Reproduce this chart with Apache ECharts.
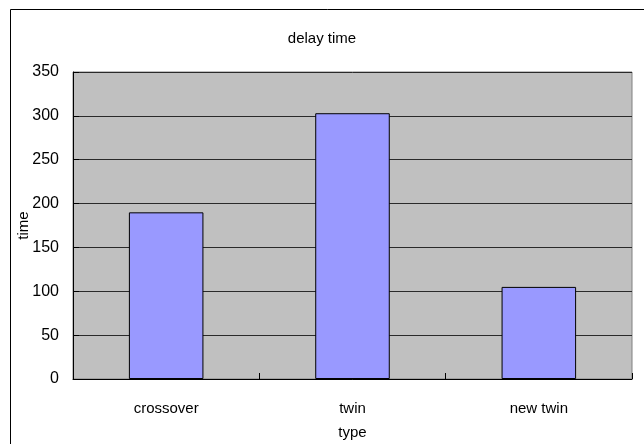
<!DOCTYPE html>
<html>
<head>
<meta charset="utf-8">
<script src="https://cdn.jsdelivr.net/npm/echarts@6/dist/echarts.min.js"></script>
<style>
  html, body { margin: 0; padding: 0; background: #fff; }
  #chart { width: 644px; height: 444px; }
</style>
</head>
<body>
<div id="chart"></div>
<script>
// Delay time per crossover type
const categories = ['crossover', 'twin', 'new twin'];
const delayValues = [190, 303, 105];
const yTicks = { min: 0, max: 350, interval: 50 };

const FONT = '"Liberation Sans", Arial, sans-serif';

const chart = echarts.init(document.getElementById('chart'), null, { renderer: 'canvas' });

chart.setOption({
  animation: false,
  backgroundColor: '#ffffff',
  title: {
    text: 'delay time',
    left: 'center',
    top: 26,
    textStyle: { fontFamily: FONT, fontSize: 15, fontWeight: 'normal', color: '#000' }
  },
  graphic: [
    {
      // outer chart frame
      type: 'rect',
      shape: { x: 10.5, y: 9.5, width: 700, height: 500 },
      style: { fill: 'none', stroke: '#000', lineWidth: 1 },
      silent: true,
      z: 100
    }
  ],
  grid: {
    left: 73,
    top: 72,
    right: 12,
    bottom: 65,
    outerBoundsMode: 'none',
    show: true,
    backgroundColor: '#C0C0C0',
    borderColor: '#808080',
    borderWidth: 1
  },
  xAxis: {
    type: 'category',
    data: categories,
    name: 'type',
    nameLocation: 'middle',
    nameGap: 46,
    nameMoveOverlap: false,
    nameTextStyle: { fontFamily: FONT, fontSize: 15, color: '#000' },
    axisLine: { show: true, lineStyle: { color: '#000', width: 1 } },
    axisTick: { show: true, inside: true, length: 6, alignWithLabel: false, lineStyle: { color: '#000' } },
    axisLabel: { fontFamily: FONT, fontSize: 15, color: '#000', margin: 22 },
    splitLine: { show: false }
  },
  yAxis: {
    type: 'value',
    min: yTicks.min,
    max: yTicks.max,
    interval: yTicks.interval,
    name: 'time',
    nameLocation: 'middle',
    nameGap: 42,
    nameRotate: 90,
    nameMoveOverlap: false,
    nameTextStyle: { fontFamily: FONT, fontSize: 15, color: '#000' },
    axisLine: { show: true, lineStyle: { color: '#000', width: 1 } },
    axisTick: { show: true, inside: true, length: 6, lineStyle: { color: '#000' } },
    axisLabel: { fontFamily: FONT, fontSize: 16, color: '#000', margin: 14 },
    splitLine: { show: true, lineStyle: { color: '#2a2a2a', width: 1 } }
  },
  series: [
    {
      type: 'bar',
      data: delayValues,
      barWidth: '40%',
      itemStyle: {
        color: '#9999FF',
        borderColor: '#000',
        borderWidth: 1
      }
    }
  ]
});
</script>
</body>
</html>
